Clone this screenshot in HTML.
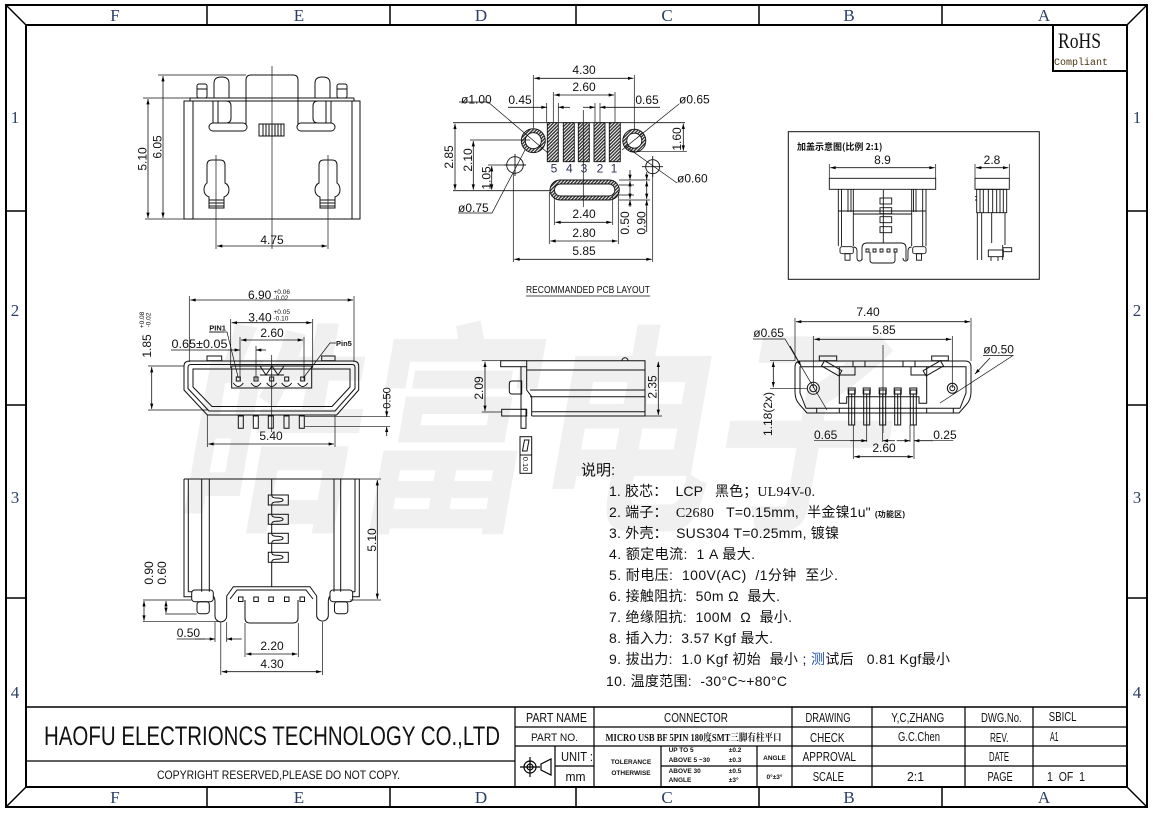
<!DOCTYPE html>
<html><head><meta charset="utf-8"><title>drawing</title>
<style>
html,body{margin:0;padding:0;background:#fff;width:1153px;height:814px;overflow:hidden}
svg{display:block}
text{font-family:"Liberation Sans","Noto Sans CJK SC",sans-serif;fill:#111}
.s{font-family:"Liberation Serif","Noto Serif CJK SC",serif}
.p{white-space:pre}
</style></head><body>
<svg xmlns="http://www.w3.org/2000/svg" width="1153" height="814" viewBox="0 0 1153 814">
<defs>
<marker id="ar" viewBox="0 0 10 6" refX="10" refY="3" markerWidth="7" markerHeight="3.2" orient="auto-start-reverse" markerUnits="userSpaceOnUse"><path d="M0,0L10,3L0,6z" fill="#000"/></marker>
<pattern id="h" width="2.4" height="2.4" patternUnits="userSpaceOnUse" patternTransform="rotate(45)"><rect width="2.4" height="2.4" fill="#fff"/><rect width="1.4" height="2.4" fill="#333"/></pattern>
</defs>
<rect width="1153" height="814" fill="#fff"/>

<!-- watermark -->
<text transform="translate(172,514) skewX(-10) scale(1,1.26)" font-family="Noto Sans CJK SC, sans-serif" font-weight="bold" font-size="178" style="fill:#f0f0f0">皓富电子</text>

<!-- frame -->
<g fill="none" stroke="#000">
<rect x="6" y="5" width="1141" height="802" stroke-width="2"/>
<rect x="26" y="25" width="1101" height="762" stroke-width="2"/>
<path d="M6,5L26,25M1147,5L1127,25M6,807L26,787M1147,807L1127,787" stroke-width="1.5"/>
<path d="M207,5V25M390,5V25M576,5V25M759,5V25M942,5V25M207,787V807M390,787V807M576,787V807M759,787V807M942,787V807M6,211H26M6,405H26M6,598H26M1127,211H1147M1127,405H1147M1127,598H1147" stroke-width="1.5"/>
</g>
<g class="s" font-size="17" text-anchor="middle" style="fill:#2b3f66">
<text x="115" y="21" class="s" style="fill:#2b3f66">F</text><text x="299" y="21" class="s" style="fill:#2b3f66">E</text><text x="481" y="21" class="s" style="fill:#2b3f66">D</text><text x="667" y="21" class="s" style="fill:#2b3f66">C</text><text x="849" y="21" class="s" style="fill:#2b3f66">B</text><text x="1044" y="21" class="s" style="fill:#2b3f66">A</text>
<text x="115" y="803" class="s" style="fill:#2b3f66">F</text><text x="299" y="803" class="s" style="fill:#2b3f66">E</text><text x="481" y="803" class="s" style="fill:#2b3f66">D</text><text x="667" y="803" class="s" style="fill:#2b3f66">C</text><text x="849" y="803" class="s" style="fill:#2b3f66">B</text><text x="1044" y="803" class="s" style="fill:#2b3f66">A</text>
<text x="15" y="123" class="s" style="fill:#2b3f66">1</text><text x="15" y="316" class="s" style="fill:#2b3f66">2</text><text x="15" y="503" class="s" style="fill:#2b3f66">3</text><text x="15" y="698" class="s" style="fill:#2b3f66">4</text>
<text x="1137" y="123" class="s" style="fill:#2b3f66">1</text><text x="1137" y="316" class="s" style="fill:#2b3f66">2</text><text x="1137" y="503" class="s" style="fill:#2b3f66">3</text><text x="1137" y="698" class="s" style="fill:#2b3f66">4</text>
</g>

<!-- RoHS -->
<rect x="1053" y="25" width="74" height="46" fill="none" stroke="#000" stroke-width="2"/>
<text x="1058" y="48" class="s" font-size="22" textLength="43" lengthAdjust="spacingAndGlyphs">RoHS</text>
<text x="1054" y="65" font-family="Liberation Mono, monospace" font-size="10" style="fill:#4a3410;font-family:'Liberation Mono',monospace" textLength="54">Compliant</text>

<!-- ===== VIEW 1 top view ===== -->
<g fill="none" stroke="#111" stroke-width="1">
<rect x="184" y="101" width="176" height="118"/>
<path d="M193,101V219M352,101V219M190,98H354M190,98V101M354,98V101"/>
<path d="M246,125V80Q246,75 251,75H293Q298,75 298,80V125"/>
<rect x="259" y="124" width="25" height="12"/>
<path d="M263,124V136M266,124V136M269,124V136M272,124V136M275,124V136M278,124V136M281,124V136"/>
<g id="v1h">
<rect x="209" y="123" width="38" height="8" rx="4"/>
<path d="M213,101H226Q231,101 231,106V118Q231,123 226,123H213ZM218,101V123"/>
<path d="M214,98V83Q214,77 221.5,77Q229,77 229,83V98"/>
<rect x="197" y="84" width="10" height="14" rx="2"/>
<path d="M197,89H207"/>
<path d="M207,165Q207,160 212,160H220Q225,160 225,165V183Q229,185 229,190Q229,195 224,197V208H209V197Q204,195 204,190Q204,185 207,183Z"/>
<path d="M209,200H224M209,203H224M209,206H224"/>
</g>
<use href="#v1h" transform="matrix(-1,0,0,1,544,0)"/>
</g>
<g fill="none" stroke="#111" stroke-width="0.7">
<path d="M272,66V249M216,155V249M328,155V249M158,75H246M145,219H184M143,98H190"/>
</g>
<g fill="none" stroke="#111" stroke-width="0.8" marker-start="url(#ar)" marker-end="url(#ar)">
<path d="M163,76V218"/><path d="M148,99V218"/><path d="M217,246H327"/>
</g>
<g font-size="12">
<text transform="translate(146.5,159) rotate(-90)" text-anchor="middle">5.10</text>
<text transform="translate(161.5,147) rotate(-90)" text-anchor="middle">6.05</text>
<text x="272" y="244" text-anchor="middle">4.75</text>
</g>

<!-- ===== VIEW 2 PCB layout ===== -->
<g fill="none" stroke="#111" stroke-width="0.9">
<path d="M453,122.7H685M453,190.7H550"/>
<g fill="url(#h)">
<rect x="547.3" y="122.7" width="11" height="39"/><rect x="563.3" y="122.7" width="11" height="39"/><rect x="578.3" y="122.7" width="11" height="39"/><rect x="594" y="122.7" width="11" height="39"/><rect x="609.3" y="122.7" width="11" height="39"/>
<circle cx="533.3" cy="140.7" r="12"/><circle cx="634.3" cy="140.7" r="11.5"/>
<rect x="550" y="180" width="69.3" height="20" rx="10"/>
</g>
<g fill="#fff">
<circle cx="533.3" cy="140.7" r="8"/><circle cx="634.3" cy="140.7" r="7.5"/>
<rect x="554.5" y="184" width="60.3" height="12" rx="6"/>
</g>
<circle cx="515" cy="165" r="8.3"/><circle cx="652.7" cy="166.7" r="7"/>
<path d="M504,165H526M515,154V176M642,166.7H663M652.7,156V177"/>
</g>
<g fill="none" stroke="#111" stroke-width="0.7">
<path d="M583.3,110V207"/>
<path d="M533.3,75V128M634.3,75V129M553.3,92V122M615,92V122M546.7,103V122M558.3,103V122M595,103V122M600,103V122"/>
<path d="M470,140H530M488,165H507M630,151.7H687"/>
<path d="M619,180H650M619,185H634M619,195H634M619,200H650"/>
<path d="M554.3,197V225M612.7,197V225M549.3,192V244M618.3,192V244M513.3,173V262M652.7,174V262"/>
<path d="M459,102H488L548,153M679,104L622,150M677,183L625,146M458,213H492L525,150"/>
<path d="M753,339H785L827,410M983,355.5H1013L940,403"/>
</g>
<g fill="none" stroke="#111" stroke-width="0.8" marker-start="url(#ar)" marker-end="url(#ar)">
<path d="M534.3,78.3H633.3"/><path d="M554.3,95H614"/>
<path d="M455,123.7V189.7"/><path d="M473.3,141V189.7"/><path d="M491.7,166V189.7"/>
<path d="M683.3,123.7V150.7"/>
<path d="M630,181V199"/><path d="M646.7,181V199"/>
<path d="M555.3,222.3H611.7"/><path d="M550.3,241H617.3"/><path d="M514.3,259.3H651.7"/>
</g>
<g fill="none" stroke="#111" stroke-width="0.8" marker-end="url(#ar)">
<path d="M508,107.3H546.7"/><path d="M570,107.3H558.3"/><path d="M583,107.3H595"/><path d="M660,107.3H600"/>
<path d="M630,170V180"/><path d="M630,207V200"/><path d="M646.7,172V180"/><path d="M646.7,232V200"/>
</g>
<g font-size="12" text-anchor="middle">
<text x="584" y="74">4.30</text><text x="584" y="91">2.60</text>
<text x="520" y="104">0.45</text><text x="647" y="104">0.65</text>
<text x="584" y="218">2.40</text><text x="584" y="237">2.80</text><text x="584" y="255">5.85</text>
<text transform="translate(453,157) rotate(-90)">2.85</text>
<text transform="translate(472,160) rotate(-90)">2.10</text>
<text transform="translate(490.5,178) rotate(-90)">1.05</text>
<text transform="translate(681,139) rotate(-90)">1.60</text>
<text transform="translate(629,223) rotate(-90)">0.50</text>
<text transform="translate(645.5,223) rotate(-90)">0.90</text>
</g>
<g font-size="12">
<text x="461" y="103.5">ø1.00</text><text x="679" y="103.5">ø0.65</text>
<text x="677" y="182.5">ø0.60</text><text x="458" y="212">ø0.75</text>
</g>
<g font-size="12" text-anchor="middle" style="fill:#2a3150">
<text x="554" y="172.7" style="fill:#2a3150">5</text><text x="569.3" y="172.7" style="fill:#2a3150">4</text><text x="584" y="172.7" style="fill:#2a3150">3</text><text x="600" y="172.7" style="fill:#2a3150">2</text><text x="614" y="172.7" style="fill:#2a3150">1</text>
</g>
<text x="526" y="293" font-size="10" textLength="124" lengthAdjust="spacingAndGlyphs">RECOMMANDED PCB LAYOUT</text>
<path d="M526,296H650" stroke="#111" stroke-width="0.8"/>

<!-- ===== 加盖 box ===== -->
<rect x="788.3" y="131.7" width="251" height="147.6" fill="none" stroke="#111" stroke-width="1"/>
<text x="797" y="150" font-size="9" font-weight="bold" style="font-family:'Noto Sans CJK SC','Liberation Sans',sans-serif">加盖示意图(比例 2:1)</text>
<g fill="none" stroke="#111" stroke-width="0.9">
<rect x="829.3" y="178.3" width="106.4" height="11"/>
<path d="M838.3,189.3V246M853.3,189.3V246M841.5,189.3V246M848,189.3V212M851,189.3V212"/>
<path d="M911.7,189.3V246M926,189.3V246M922.7,189.3V246M916,189.3V212M913.5,189.3V212"/>
<path d="M853.3,211H911.7M853.3,214H911.7M838.3,211H853.3M911.7,211H926"/>
<path d="M883.3,190V243"/>
<rect x="880" y="198" width="11.7" height="6"/><rect x="880" y="207.7" width="11.7" height="6"/><rect x="880" y="216.7" width="11.7" height="6"/><rect x="880" y="226.7" width="11.7" height="6"/>
<path d="M862,260V248Q862,243 867,243H901Q906,243 906,248V260"/>
<path d="M870,252V260Q870,263 873,263H892Q895,263 895,260V252"/>
<path d="M866,249h3v3h-3zM873,249h3v3h-3zM880,249h3v3h-3zM887,249h3v3h-3zM894,249h3v3h-3z"/>
<rect x="840" y="246.7" width="13.3" height="7" rx="2"/><rect x="845" y="253.7" width="5" height="6.5"/>
<rect x="912.7" y="246.7" width="13.3" height="7" rx="2"/><rect x="916.5" y="253.7" width="5" height="6.5"/>
<path d="M853.3,247Q857,247 857,251V258Q857,261 859.5,261Q862,261 862,258M911.7,247Q908,247 908,251V258Q908,261 905.5,261Q903,261 903,258"/>
<rect x="975" y="178.3" width="34.3" height="11"/>
<rect x="976.7" y="189.3" width="30" height="23.4"/>
<path d="M980,189.3V212.7M983.3,189.3V212.7M988.3,189.3V212.7M992.7,189.3V212.7M996.7,189.3V212.7M1000,189.3V212.7M1003.3,189.3V212.7"/>
<path d="M977.3,212.7V260M981.7,212.7V260M991.7,212.7V243M1005,212.7V245M1002.7,245V260M975,196.7H977M975,200H977"/>
<rect x="988.3" y="250" width="15" height="6.7"/><rect x="1003" y="247.7" width="8.7" height="4"/>
<path d="M991,256.7V261M998,256.7V261"/>
</g>
<g fill="none" stroke="#111" stroke-width="0.7"><path d="M829.3,164V178M935.7,164V178M975,164V178M1009.3,164V178"/></g>
<g fill="none" stroke="#111" stroke-width="0.8" marker-start="url(#ar)" marker-end="url(#ar)">
<path d="M830.3,167.7H934.7"/><path d="M976,167.7H1008.3"/>
</g>
<text x="882.5" y="164" font-size="12" text-anchor="middle">8.9</text>
<text x="992" y="164" font-size="12" text-anchor="middle">2.8</text>

<!-- ===== VIEW 4 front view ===== -->
<g fill="none" stroke="#111" stroke-width="1">
<path d="M184,366Q184,361 190,361H352.7Q358.7,361 358.7,366V390L336.7,415H207.3L184,390Z"/>
<path d="M188,367.5Q188,364.5 191,364.5H352Q355,364.5 355,367.5V388.5L335,411H209L188,388.5Z"/>
<path d="M193,369H350V387L332,406.5H212L193,387Z"/>
<rect x="207" y="356" width="14.7" height="4.7"/><rect x="321.7" y="356" width="13.3" height="4.7"/>
<rect x="231.7" y="366" width="80" height="22"/>
<path d="M260,366L266,375L272,366L278,375L284,366M260,375H284"/>
<path d="M236.3,377h4v4h-4zM254,377h4v4h-4zM269.7,377h4v4h-4zM284.7,377h4v4h-4zM300.7,377h4v4h-4z"/>
<path d="M233.3,383Q238.3,390 243.3,383M251,383Q256,390 261,383M266.7,383Q271.7,390 276.7,383M281.7,383Q286.7,390 291.7,383M297.7,383Q302.7,390 307.7,383"/>
<path d="M238.3,416h5v12.3h-5zM253.3,416h5v12.3h-5zM268.3,416h5v12.3h-5zM284,416h5v12.3h-5zM299.3,416h5v12.3h-5z"/>
</g>
<g fill="none" stroke="#111" stroke-width="0.7">
<path d="M271.7,355V432"/>
<path d="M189.3,296V362M354,296V362M230.7,319V368M312.7,319V368M240,337V380M304,337V380M256,346V380"/>
<path d="M148,366H184M148,410H208M305,416.7H390M305,426.7H390M207.3,415V447M335,415V447"/>
<path d="M171,350H228M209,332H227L238.3,378M336,343H330L303.3,378"/>
</g>
<g fill="none" stroke="#111" stroke-width="0.8" marker-start="url(#ar)" marker-end="url(#ar)">
<path d="M190.3,300H353"/><path d="M231.7,322.7H311.7"/><path d="M241,340H303"/>
<path d="M151.7,367V409"/><path d="M208.3,444H334"/>
</g>
<g fill="none" stroke="#111" stroke-width="0.8" marker-end="url(#ar)">
<path d="M228,350H240"/><path d="M266,350H256"/>
<path d="M386.7,393V416.7"/><path d="M386.7,436V426.7"/>
</g>
<g font-size="12">
<text x="248" y="299">6.90</text>
<text x="273.5" y="294" font-size="6.5">+0.06</text><text x="273.5" y="300" font-size="6.5">-0.02</text>
<text x="248.3" y="321.5">3.40</text>
<text x="273.5" y="314" font-size="6.5">+0.05</text><text x="273.5" y="320.5" font-size="6.5">-0.10</text>
<text x="272" y="337" text-anchor="middle">2.60</text>
<text x="171.5" y="348" textLength="56" lengthAdjust="spacingAndGlyphs">0.65±0.05</text>
<text x="209.3" y="330.5" font-size="7.5" font-weight="bold">PIN1</text>
<text x="336" y="346" font-size="7.5" font-weight="bold">Pin5</text>
<text transform="translate(151,346) rotate(-90)" text-anchor="middle">1.85</text>
<text transform="translate(144,320) rotate(-90)" text-anchor="middle" font-size="6.5">+0.08</text>
<text transform="translate(150.5,320) rotate(-90)" text-anchor="middle" font-size="6.5">-0.02</text>
<text transform="translate(390.5,398) rotate(-90)" text-anchor="middle" font-size="11">0.50</text>
<text x="271" y="440" text-anchor="middle">5.40</text>
</g>
<path d="M209.3,332H224" stroke="#111" stroke-width="0.7"/>

<!-- ===== VIEW 5 side view ===== -->
<g fill="none" stroke="#111" stroke-width="1">
<rect x="500.7" y="360.7" width="26" height="6"/>
<path d="M526.7,360.7H645V416H531.7"/>
<path d="M526.7,370H645M530,390H645M530,396.7H645M531.7,411.7H645"/>
<path d="M526.7,366.7V390L531.7,396.7V416M521,366.7V409.3"/>
<path d="M521.7,381V394H512Q509.3,394 509.3,391V384Q509.3,381 512,381Z"/>
<rect x="501.7" y="409.3" width="25" height="6.7"/>
<rect x="521" y="409.3" width="5" height="6.7"/>
<rect x="521" y="416" width="5" height="12.3"/>
<path d="M622,360.7A3,3 0 0 1 628,360.7"/>
<rect x="520" y="436.7" width="11.7" height="36.6"/>
<path d="M520,455H531.7M522.5,451L524.5,440L529,440L527,451Z"/>
</g>
<g fill="none" stroke="#111" stroke-width="0.7">
<path d="M481.7,360.7H500.7M481.7,412H501.7M645,416H662"/>
</g>
<g fill="none" stroke="#111" stroke-width="0.8" marker-start="url(#ar)" marker-end="url(#ar)">
<path d="M485,361.7V411"/><path d="M658.3,361.7V415"/>
</g>
<g font-size="12">
<text transform="translate(483,388) rotate(-90)" text-anchor="middle">2.09</text>
<text transform="translate(656.5,387) rotate(-90)" text-anchor="middle">2.35</text>
<text transform="translate(523,464) rotate(90)" text-anchor="middle" font-size="7.5">0.10</text>
</g>

<!-- ===== VIEW 6 right front ===== -->
<g fill="none" stroke="#111" stroke-width="1">
<path d="M795,367Q795,361 801,361H965Q971,361 971,367V392Q971,400 966,405L959,413H807L800,405Q795,400 795,392Z"/>
<path d="M800,366.7H966V393L960,408.3H806L800,393Z"/>
<path d="M839.3,366.7V403.3H846.7V396.7H919V403.3H926.7V366.7"/>
<path d="M839.3,375H855V366.7M926.7,375H911V366.7M853,361V366.7M865,361V366.7M903,361V366.7M915,361V366.7"/>
<path d="M816.7,408.3V413M839.3,408.3V413M926.7,408.3V413M953.3,408.3V413"/>
<rect x="819.3" y="356" width="17.4" height="4.7"/><rect x="931.7" y="356" width="16.6" height="4.7"/>
<rect x="821.7" y="365.3" width="20" height="6" transform="rotate(30 831.7 368.3)"/>
<rect x="923.3" y="365.3" width="20" height="6" transform="rotate(-30 933.3 368.3)"/>
<circle cx="813.3" cy="388.3" r="6"/><circle cx="813.3" cy="388.3" r="3.5"/>
<circle cx="952.3" cy="388.3" r="5"/><circle cx="952.3" cy="388.3" r="2.5"/>
<g id="pn"><rect x="848.7" y="390" width="6" height="35"/><rect x="848.2" y="388" width="7" height="6"/><path d="M851.7,394V425"/></g>
<use href="#pn" transform="translate(15,0)"/><use href="#pn" transform="translate(31,0)"/><use href="#pn" transform="translate(46,0)"/><use href="#pn" transform="translate(61.6,0)"/>
</g>
<g fill="none" stroke="#111" stroke-width="0.7">
<path d="M883,345V433M795,318V361M971,318V361M813.3,336V388M952.3,336V388M770,360.7H795M770,388.3H807"/>
<path d="M866.7,425V442M882.7,425V442M910,425V442M914,425V459M853.3,425V459"/>
<path d="M814,440.7H866.7M933.3,440.7H953.3"/>
</g>
<g fill="none" stroke="#111" stroke-width="0.8" marker-start="url(#ar)" marker-end="url(#ar)">
<path d="M796,321.7H970"/><path d="M814.3,339.3H951.3"/><path d="M773.3,361.7V387.3"/><path d="M854.3,456.7H913"/>
</g>
<g fill="none" stroke="#111" stroke-width="0.8" marker-end="url(#ar)">
<path d="M850,440.7H866.7"/><path d="M895,440.7H882.7"/><path d="M896.7,440.7H910"/><path d="M933.3,440.7H914"/>
<path d="M790,346L801,366"/><path d="M990,358L975,374"/>
</g>
<g font-size="12">
<text x="868" y="316" text-anchor="middle">7.40</text>
<text x="884" y="334" text-anchor="middle">5.85</text>
<text x="753.3" y="337">ø0.65</text>
<text x="983.3" y="353.5">ø0.50</text>
<text transform="translate(772,414) rotate(-90)" text-anchor="middle">1.18(2x)</text>
<text x="814" y="439">0.65</text>
<text x="933.3" y="439">0.25</text>
<text x="884" y="452" text-anchor="middle">2.60</text>
</g>

<!-- ===== VIEW 7 bottom view ===== -->
<g fill="none" stroke="#111" stroke-width="1">
<path d="M184,479H359.3M184,479V596.7H192M359.3,479V596.7H352"/>
<path d="M188.3,479V591.7M201.7,479V591.7M209.3,479V591.7M334,479V591.7M340.7,479V591.7M355,479V591.7M188.3,591.7H192M352,591.7H355"/>
<rect x="191.7" y="590" width="21.6" height="11.7" rx="3"/><rect x="197" y="601.7" width="12.3" height="12" rx="3"/>
<rect x="330" y="590" width="22.7" height="11.7" rx="3"/><rect x="334.5" y="601.7" width="13.3" height="12" rx="3"/>
<path d="M213.3,596Q215,598 215,602V616A5.85,5.85 0 0 0 226.7,616V596L233.3,586.7H310L316.7,596V616A5.85,5.85 0 0 0 328.3,616V602Q328.3,598 330,596"/>
<path d="M230,599L237,590H306L313,599"/>
<path d="M238.5,597h4.5v4.5h-4.5zM253.8,597h4.5v4.5h-4.5zM268.8,597h4.5v4.5h-4.5zM284.5,597h4.5v4.5h-4.5zM300,597h4.5v4.5h-4.5z"/>
<path d="M245,600V618Q245,623 250,623H293Q298,623 298,618V600"/>
<rect x="268.3" y="495" width="20" height="10"/><rect x="268.3" y="514.3" width="20" height="10"/><rect x="268.3" y="533.3" width="20" height="10"/><rect x="268.3" y="552.3" width="20" height="10"/>
<path d="M271.7,479V495Q271.7,498 276,498Q283,498 283,500Q283,502 276,502Q271.7,502 271.7,505V514.3Q271.7,517.3 276,517.3Q283,517.3 283,519.3Q283,521.3 276,521.3Q271.7,521.3 271.7,524.3V533.3Q271.7,536.3 276,536.3Q283,536.3 283,538.3Q283,540.3 276,540.3Q271.7,540.3 271.7,543.3V552.3Q271.7,555.3 276,555.3Q283,555.3 283,557.3Q283,559.3 276,559.3Q271.7,559.3 271.7,562.3V586.7"/>
</g>
<g fill="none" stroke="#111" stroke-width="0.7">
<path d="M359,479H381M350,600H381M143,600H191.7M165,614H196.7M143,621.7H218"/>
<path d="M215,622V642M226.7,622V642M245,623V657M298.3,623V657M220.8,622V675M322.5,622V675M176.7,639H205"/>
</g>
<g fill="none" stroke="#111" stroke-width="0.8" marker-start="url(#ar)" marker-end="url(#ar)">
<path d="M377.3,480V599"/><path d="M144,601V620.7"/><path d="M166,601V613"/>
<path d="M246,654H297.3"/><path d="M221.8,671.7H321.5"/>
</g>
<g fill="none" stroke="#111" stroke-width="0.8" marker-end="url(#ar)">
<path d="M195,639H215"/><path d="M241.7,639H226.7"/>
</g>
<g font-size="12">
<text transform="translate(376,540) rotate(-90)" text-anchor="middle">5.10</text>
<text transform="translate(153,573) rotate(-90)" text-anchor="middle">0.90</text>
<text transform="translate(166,573) rotate(-90)" text-anchor="middle">0.60</text>
<text x="176.7" y="637">0.50</text>
<text x="272" y="650" text-anchor="middle">2.20</text>
<text x="272" y="668" text-anchor="middle">4.30</text>
</g>

<!-- ===== Notes ===== -->
<g font-size="14" class="p">
<text x="581" y="475" font-size="15" style="white-space:pre">说明:</text>
<text x="609" y="496" textLength="206" style="white-space:pre">1. 胶芯：  LCP   黑色；<tspan class="s">UL94V-0.</tspan></text>
<text x="609" y="517" textLength="296" style="white-space:pre">2. 端子：  <tspan class="s">C2680</tspan>   T=0.15mm,  半金镍1u" <tspan font-size="8" font-weight="bold">(功能区)</tspan></text>
<text x="609" y="538" textLength="230" style="white-space:pre">3. 外壳：  SUS304 T=0.25mm, 镀镍</text>
<text x="609" y="559" textLength="146" style="white-space:pre">4. 额定电流:  1 A 最大.</text>
<text x="609" y="580" textLength="229" style="white-space:pre">5. 耐电压:  100V(AC)  /1分钟  至少.</text>
<text x="609" y="601" textLength="171" style="white-space:pre">6. 接触阻抗:  50m Ω  最大.</text>
<text x="609" y="622" textLength="183" style="white-space:pre">7. 绝缘阻抗:  100M  Ω  最小.</text>
<text x="609" y="643" textLength="164" style="white-space:pre">8. 插入力:  3.57 Kgf 最大.</text>
<text x="609" y="664" textLength="341" style="white-space:pre">9. 拔出力:  1.0 Kgf 初始  最小 ; <tspan style="fill:#1d4fa3">测</tspan>试后   0.81 Kgf最小</text>
<text x="606" y="686" textLength="181" style="white-space:pre">10. 温度范围:  -30°C~+80°C</text>
</g>

<!-- ===== Title block ===== -->
<g stroke="#000" fill="none" stroke-width="1.2">
<path d="M26,707H1127" stroke-width="1.6"/>
<path d="M26,761H515M515,707V787M515,727H1127M515,746H1127M555,766H594M661,766H1127M594,707V787M555,746V787M661,746V787M757,746V787M792,707V787M872,707V787M965,707V787M1033,707V787"/>
<circle cx="530" cy="767" r="6"/><circle cx="530" cy="767" r="3"/>
<path d="M520,767H540M530,757V777M541,764L551,759V775L541,770ZM541,764V770"/>
</g>
<text x="44" y="745" font-size="27" textLength="456" lengthAdjust="spacingAndGlyphs">HAOFU ELECTRIONCS TECHNOLOGY CO.,LTD</text>
<text x="157" y="779" font-size="12" textLength="243" lengthAdjust="spacingAndGlyphs">COPYRIGHT RESERVED,PLEASE DO NOT COPY.</text>
<g font-size="12.5">
<text x="526" y="722" textLength="61" lengthAdjust="spacingAndGlyphs">PART NAME</text>
<text x="531" y="741" font-size="11" textLength="47" lengthAdjust="spacingAndGlyphs">PART NO.</text>
<text x="561" y="761" textLength="32" lengthAdjust="spacingAndGlyphs">UNIT :</text>
<text x="565.5" y="781" textLength="20" lengthAdjust="spacingAndGlyphs">mm</text>
<text x="664" y="722" textLength="64" lengthAdjust="spacingAndGlyphs">CONNECTOR</text>
<text x="605.5" y="741" font-size="10" font-weight="bold" class="s" textLength="176" lengthAdjust="spacingAndGlyphs">MICRO USB BF 5PIN 180度SMT三脚有柱平口</text>
<text x="805.5" y="722" textLength="45" lengthAdjust="spacingAndGlyphs">DRAWING</text>
<text x="810" y="742" textLength="34.5" lengthAdjust="spacingAndGlyphs">CHECK</text>
<text x="802.6" y="761" textLength="53.4" lengthAdjust="spacingAndGlyphs">APPROVAL</text>
<text x="812.7" y="781" textLength="31.3" lengthAdjust="spacingAndGlyphs">SCALE</text>
<text x="891.3" y="722" textLength="53" lengthAdjust="spacingAndGlyphs">Y,C,ZHANG</text>
<text x="898" y="741" textLength="42" lengthAdjust="spacingAndGlyphs">G.C.Chen</text>
<text x="907" y="781" textLength="17" lengthAdjust="spacingAndGlyphs">2:1</text>
<text x="981" y="722" textLength="40.7" lengthAdjust="spacingAndGlyphs">DWG.No.</text>
<text x="990" y="742" textLength="18.4" lengthAdjust="spacingAndGlyphs">REV.</text>
<text x="989" y="761" textLength="20" lengthAdjust="spacingAndGlyphs">DATE</text>
<text x="987.5" y="781" textLength="25.2" lengthAdjust="spacingAndGlyphs">PAGE</text>
<text x="1048.8" y="721" textLength="27.7" lengthAdjust="spacingAndGlyphs">SBICL</text>
<text x="1050" y="741" textLength="8.5" lengthAdjust="spacingAndGlyphs">A1</text>
<text x="1047" y="781" textLength="38" lengthAdjust="spacingAndGlyphs" style="white-space:pre">1  OF  1</text>
</g>
<g font-size="6.5" font-weight="bold">
<text x="631" y="764" text-anchor="middle">TOLERANCE</text>
<text x="631" y="775" text-anchor="middle">OTHERWISE</text>
<text x="668.6" y="752">UP TO 5</text><text x="728.8" y="752">±0.2</text>
<text x="668.6" y="762">ABOVE 5 ~30</text><text x="728.8" y="762">±0.3</text>
<text x="668.6" y="773">ABOVE 30</text><text x="728.8" y="773">±0.5</text>
<text x="668.6" y="782">ANGLE</text><text x="728.8" y="782">±3°</text>
<text x="774.5" y="760" text-anchor="middle">ANGLE</text>
<text x="774.5" y="779" text-anchor="middle">0°±3°</text>
</g>
</svg>
</body></html>
